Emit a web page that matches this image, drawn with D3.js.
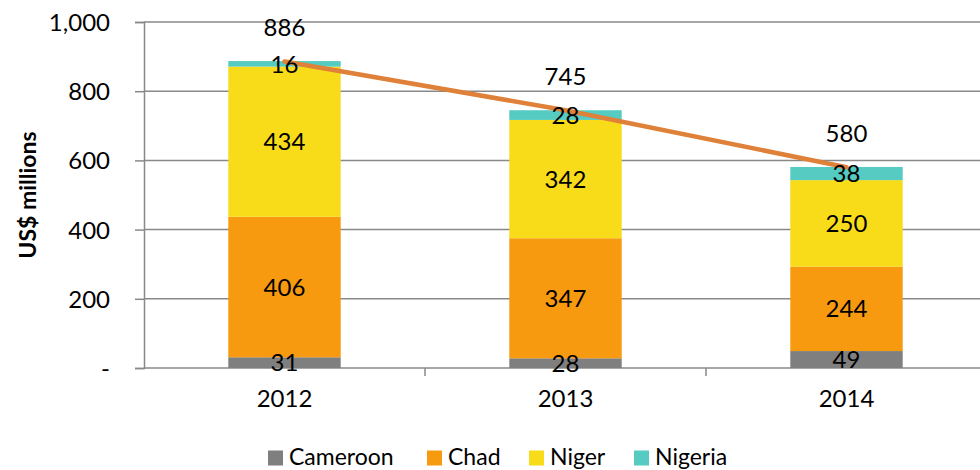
<!DOCTYPE html>
<html><head><meta charset="utf-8">
<script src="https://cdn.jsdelivr.net/npm/d3@7"></script>
<style>body{margin:0;background:#fff}svg{display:block}text{font-family:Lato,"Open Sans",sans-serif;fill:#000}</style>
</head><body><svg id="c" width="980" height="470"></svg>
<script>
const years = ["2012","2013","2014"];
const seriesNames = ["Cameroon","Chad","Niger","Nigeria"];
const cameroon = [31,28,49];
const chad = [406,347,244];
const niger = [434,342,250];
const nigeria = [16,28,38];
const totals = [886,745,580];
const yTicks = [0,200,400,600,800,1000];
const colors = ["#7f7f7f","#f79a0f","#f8dc1a","#55cbc1"];
const lineColor = "#df8138";
const fs = "24px";

const svg = d3.select("#c");
const plotL = 144, plotT = 22, plotB = 368, band = 281;
const x = d3.scaleBand().domain(years).range([plotL, plotL + band*3]).paddingInner(0.6).paddingOuter(0.3);
const y = d3.scaleLinear().domain([0,1000]).range([plotB, plotT]);

// gridlines
svg.append("g").selectAll("line").data(yTicks.filter(d=>d>0)).join("line")
  .attr("x1", plotL).attr("x2", 980).attr("y1", d=>y(d)).attr("y2", d=>y(d))
  .attr("stroke", "#898989").attr("stroke-width", 1.5);

// y axis
const yAxis = d3.axisLeft(y).tickValues(yTicks).tickSize(9).tickPadding(25)
  .tickFormat(d => d===0 ? "-" : d3.format(",")(d));
const gy = svg.append("g").attr("transform", `translate(${plotL},0)`).call(yAxis);
gy.select(".domain").attr("stroke","#898989").attr("stroke-width",1.5);
gy.selectAll(".tick line").attr("stroke","#898989").attr("stroke-width",1.5);
gy.selectAll(".tick text").style("font-size",fs).attr("dy","0.35em");

// x axis
const xTicksPos = d3.range(1,4).map(i => plotL + i*band);
const gx = svg.append("g").attr("transform", `translate(0,${plotB})`).call(
  d3.axisBottom(x).tickSize(0).tickPadding(22));
gx.select(".domain").remove();
gx.selectAll(".tick text").style("font-size",fs);
svg.append("line").attr("x1",plotL).attr("x2",980).attr("y1",plotB).attr("y2",plotB)
  .attr("stroke","#898989").attr("stroke-width",1.5);
svg.append("g").selectAll("line").data(xTicksPos).join("line")
  .attr("x1",d=>d).attr("x2",d=>d).attr("y1",plotB).attr("y2",plotB+8)
  .attr("stroke","#898989").attr("stroke-width",1.5);

// stack
const data = years.map((yr,i)=>({year:yr, Cameroon:cameroon[i], Chad:chad[i], Niger:niger[i], Nigeria:nigeria[i]}));
const stack = d3.stack().keys(seriesNames)(data);
const gs = svg.append("g").selectAll("g").data(stack).join("g").attr("fill",(d,i)=>colors[i]);
gs.selectAll("rect").data(d=>d).join("rect")
  .attr("x", d=>x(d.data.year)).attr("width", x.bandwidth())
  .attr("y", d=>y(d[1])).attr("height", d=>y(d[0])-y(d[1]));

// line
const line = d3.line().x((d,i)=>x(years[i])+x.bandwidth()/2).y(d=>y(d));
svg.append("path").datum(totals).attr("d", line).attr("fill","none")
  .attr("stroke", lineColor).attr("stroke-width",4.5).attr("stroke-linecap","round");

// segment labels
svg.append("g").selectAll("g").data(stack).join("g").selectAll("text").data(d=>d).join("text")
  .attr("x", d=>x(d.data.year)+x.bandwidth()/2)
  .attr("y", d=>(y(d[0])+y(d[1]))/2).attr("dy","0.36em")
  .attr("text-anchor","middle").style("font-size",fs)
  .text(d=>d[1]-d[0]);

// total labels
svg.append("g").selectAll("text").data(totals).join("text")
  .attr("x",(d,i)=>x(years[i])+x.bandwidth()/2).attr("y", d=>y(d)-34).attr("dy","0.36em")
  .attr("text-anchor","middle").style("font-size",fs).text(d=>d);

// y title
svg.append("text").attr("transform",`translate(28,${(plotT+plotB)/2}) rotate(-90)`)
  .attr("text-anchor","middle").attr("dy","0.35em").style("font-size","23px").style("font-weight","bold")
  .text("US$ millions");

// legend
const legX = [268, 427, 529, 634];
const lg = svg.append("g").selectAll("g").data(seriesNames).join("g")
  .attr("transform",(d,i)=>`translate(${legX[i]},458)`);
lg.append("rect").attr("x",0).attr("y",-7.5).attr("width",15).attr("height",15).attr("fill",(d,i)=>colors[i]);
lg.append("text").attr("x",21).attr("y",6.5).style("font-size","23px").text(d=>d);
</script></body></html>
